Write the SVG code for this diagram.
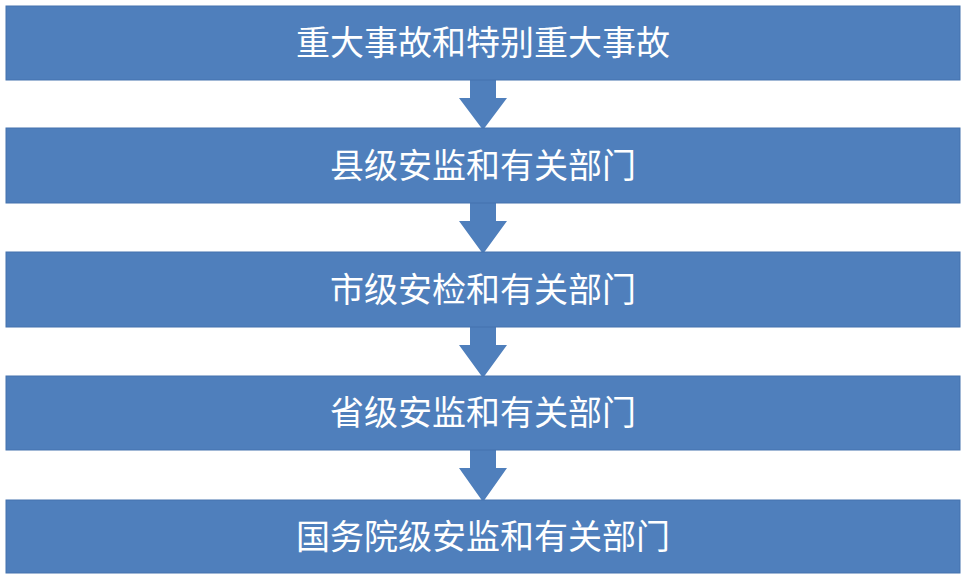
<svg xmlns="http://www.w3.org/2000/svg" width="966" height="580" viewBox="0 0 966 580">
<style>
.box{fill:#4F7FBC;stroke:#4573AE;stroke-width:1}
.lbl{fill:#ffffff;font-family:"Noto Sans CJK SC","Noto Sans",sans-serif;font-size:34px;text-anchor:middle;dominant-baseline:central}
.arr{fill:#4F7FBC}
</style>
<rect width="966" height="580" fill="#ffffff"/>
<g id="connectors">
<polygon class="arr" points="470,80 496,80 496,98 507,98 483,130 459,98 470,98"/>
<polygon class="arr" points="470,203 496,203 496,221 507,221 483,254 459,221 470,221"/>
<polygon class="arr" points="470,327 496,327 496,345 507,345 483,378 459,345 470,345"/>
<polygon class="arr" points="470,450 496,450 496,468 507,468 483,502 459,468 470,468"/>
</g>
<g id="n1"><rect class="box" x="6" y="6" width="954" height="74"/><text class="lbl" x="483" y="40">重大事故和特别重大事故</text></g>
<g id="n2"><rect class="box" x="6" y="128" width="954" height="75"/><text class="lbl" x="483" y="163">县级安监和有关部门</text></g>
<g id="n3"><rect class="box" x="6" y="252" width="954" height="75"/><text class="lbl" x="483" y="287">市级安检和有关部门</text></g>
<g id="n4"><rect class="box" x="6" y="376" width="954" height="74"/><text class="lbl" x="483" y="410">省级安监和有关部门</text></g>
<g id="n5"><rect class="box" x="6" y="500" width="954" height="73"/><text class="lbl" x="483" y="534">国务院级安监和有关部门</text></g>
</svg>
